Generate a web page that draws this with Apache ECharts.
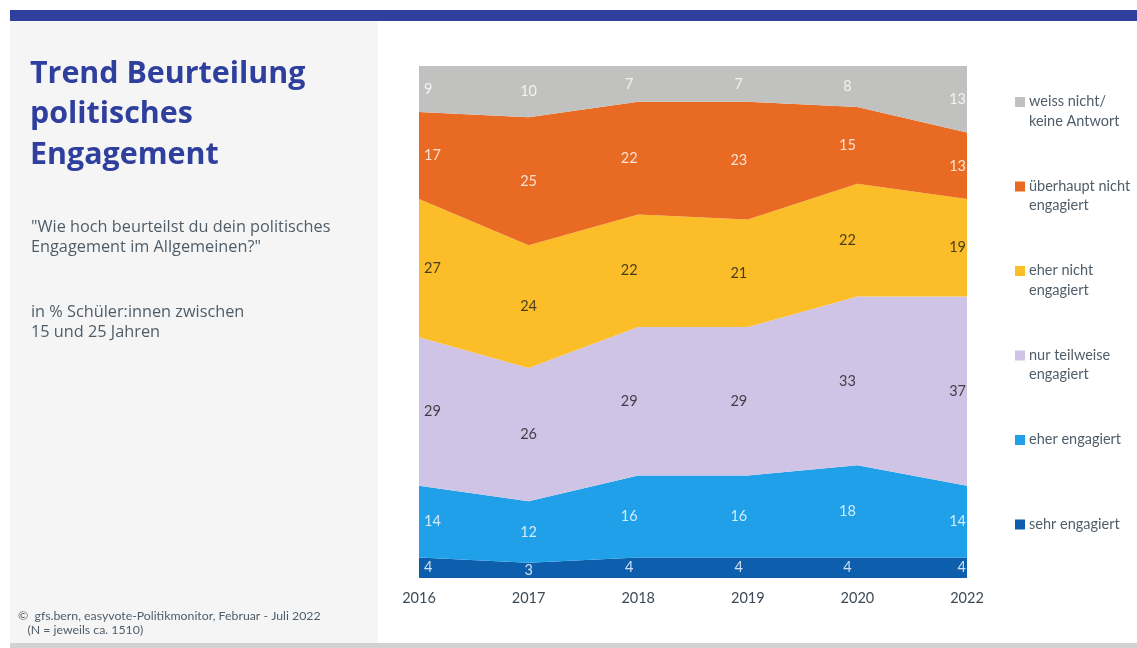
<!DOCTYPE html>
<html>
<head>
<meta charset="utf-8">
<script src="https://cdn.jsdelivr.net/npm/echarts@6/dist/echarts.min.js"></script>
<style>
  html, body { margin: 0; padding: 0; background: #ffffff; }
  #chart { width: 1137px; height: 648px; }
</style>
</head>
<body>
<div id="chart"></div>
<script>
// Survey waves
const years = ['2016', '2017', '2018', '2019', '2020', '2022'];

// Shares in % per answer, bottom band first
const sehrEngagiert = [4, 3, 4, 4, 4, 4];
const eherEngagiert = [14, 12, 16, 16, 18, 14];
const nurTeilweise = [29, 26, 29, 29, 33, 37];
const eherNicht = [27, 24, 22, 21, 22, 19];
const ueberhauptNicht = [17, 25, 22, 23, 15, 13];
const weissNicht = [9, 10, 7, 7, 8, 13];

const seriesNames = ['sehr engagiert', 'eher engagiert', 'nur teilweise engagiert',
  'eher nicht engagiert', 'überhaupt nicht engagiert', 'weiss nicht/ keine Antwort'];
const legendLines = [['sehr engagiert'], ['eher engagiert'], ['nur teilweise', 'engagiert'],
  ['eher nicht', 'engagiert'], ['überhaupt nicht', 'engagiert'], ['weiss nicht/', 'keine Antwort']];
const seriesValues = [sehrEngagiert, eherEngagiert, nurTeilweise, eherNicht, ueberhauptNicht, weissNicht];
const colors = ['#0d5fad', '#1fa0e8', '#cfc4e6', '#fbbd28', '#e86a23', '#c1c1bf'];
const labelColors = ['#ffffff', '#ffffff', '#1a1a1a', '#1a1a1a', '#ffffff', '#ffffff'];

// Horizontal nudge of the value labels per wave
const labelShift = [5, 0, -9, -9, -10, -1];

const FONT = 'Lato';
const chart = echarts.init(document.getElementById('chart'), null, { renderer: 'canvas' });

// Stacked area bands
const areaSeries = seriesValues.map((vals, s) => ({
  name: seriesNames[s],
  type: 'line',
  stack: 'total',
  data: vals,
  symbol: 'none',
  smooth: false,
  lineStyle: { width: 0 },
  areaStyle: { color: colors[s], opacity: 1 },
  z: 2,
  silent: true
}));

// Value labels placed in the middle of each band
const labelSeries = seriesValues.map((vals, s) => ({
  type: 'scatter',
  symbolSize: 0,
  silent: true,
  z: 5,
  data: vals.map((v, i) => {
    let base = 0;
    for (let k = 0; k < s; k++) base += seriesValues[k][i];
    const first = i === 0, last = i === vals.length - 1;
    return {
      value: [i, base + v / 2, v],
      label: {
        align: first ? 'left' : (last ? 'right' : 'center'),
        offset: [labelShift[i], 0]
      }
    };
  }),
  label: {
    show: true,
    position: 'inside',
    verticalAlign: 'middle',
    color: labelColors[s],
    fontFamily: FONT,
    fontSize: 14.5,
    formatter: p => String(p.value[2])
  }
}));

// Legend on the right, top entry first
const legendGraphics = [];
const legendTop = 102, legendStep = 84.5;
for (let r = 0; r < 6; r++) {
  const s = 5 - r;
  const y = legendTop + r * legendStep;
  legendGraphics.push({
    type: 'rect', left: 1015, top: y - 5,
    shape: { width: 10, height: 10 },
    style: { fill: colors[s] }
  });
  legendGraphics.push({
    type: 'text', left: 1029, top: y - 10,
    style: {
      text: legendLines[s].join('\n'),
      fill: '#4f5d69', font: '14.5px ' + FONT, lineHeight: 19.5
    }
  });
}

chart.setOption({
  animation: false,
  backgroundColor: '#ffffff',
  grid: { left: 419, right: 170, top: 66, bottom: 70 },
  xAxis: {
    type: 'category',
    data: years,
    boundaryGap: false,
    axisLine: { show: false },
    axisTick: { show: false },
    axisLabel: { color: '#3d4a55', fontFamily: FONT, fontSize: 14.5, margin: 13 }
  },
  yAxis: {
    type: 'value', min: 0, max: 100, show: false,
    splitLine: { show: false }
  },
  series: [...areaSeries, ...labelSeries],
  graphic: [
    // top band
    { type: 'rect', left: 10, top: 10, shape: { width: 1127, height: 11 }, style: { fill: '#2f3f9e' } },
    // left panel
    { type: 'rect', left: 10, top: 21, shape: { width: 368, height: 622 }, style: { fill: '#f5f5f5' } },
    // bottom strip
    { type: 'rect', left: 10, top: 643, shape: { width: 1127, height: 5 }, style: { fill: '#d2d2d2' } },
    {
      type: 'text', left: 30, top: 54,
      style: { text: 'Trend Beurteilung\npolitisches\nEngagement', fill: '#2f3f9e',
        font: 'bold 30.4px "Open Sans"', lineHeight: 40.5 }
    },
    {
      type: 'text', left: 31, top: 217,
      style: { text: '"Wie hoch beurteilst du dein politisches\nEngagement im Allgemeinen?"',
        fill: '#4f5d69', font: '16.3px "Open Sans"', lineHeight: 20 }
    },
    {
      type: 'text', left: 31, top: 302,
      style: { text: 'in % Schüler:innen zwischen\n15 und 25 Jahren',
        fill: '#4f5d69', font: '16.3px "Open Sans"', lineHeight: 20 }
    },
    {
      type: 'text', left: 18, top: 609,
      style: { text: '©  gfs.bern, easyvote-Politikmonitor, Februar - Juli 2022\n   (N = jeweils ca. 1510)',
        fill: '#4f5d69', font: '12.3px ' + FONT, lineHeight: 14 }
    },
    ...legendGraphics
  ]
});
</script>
</body>
</html>
